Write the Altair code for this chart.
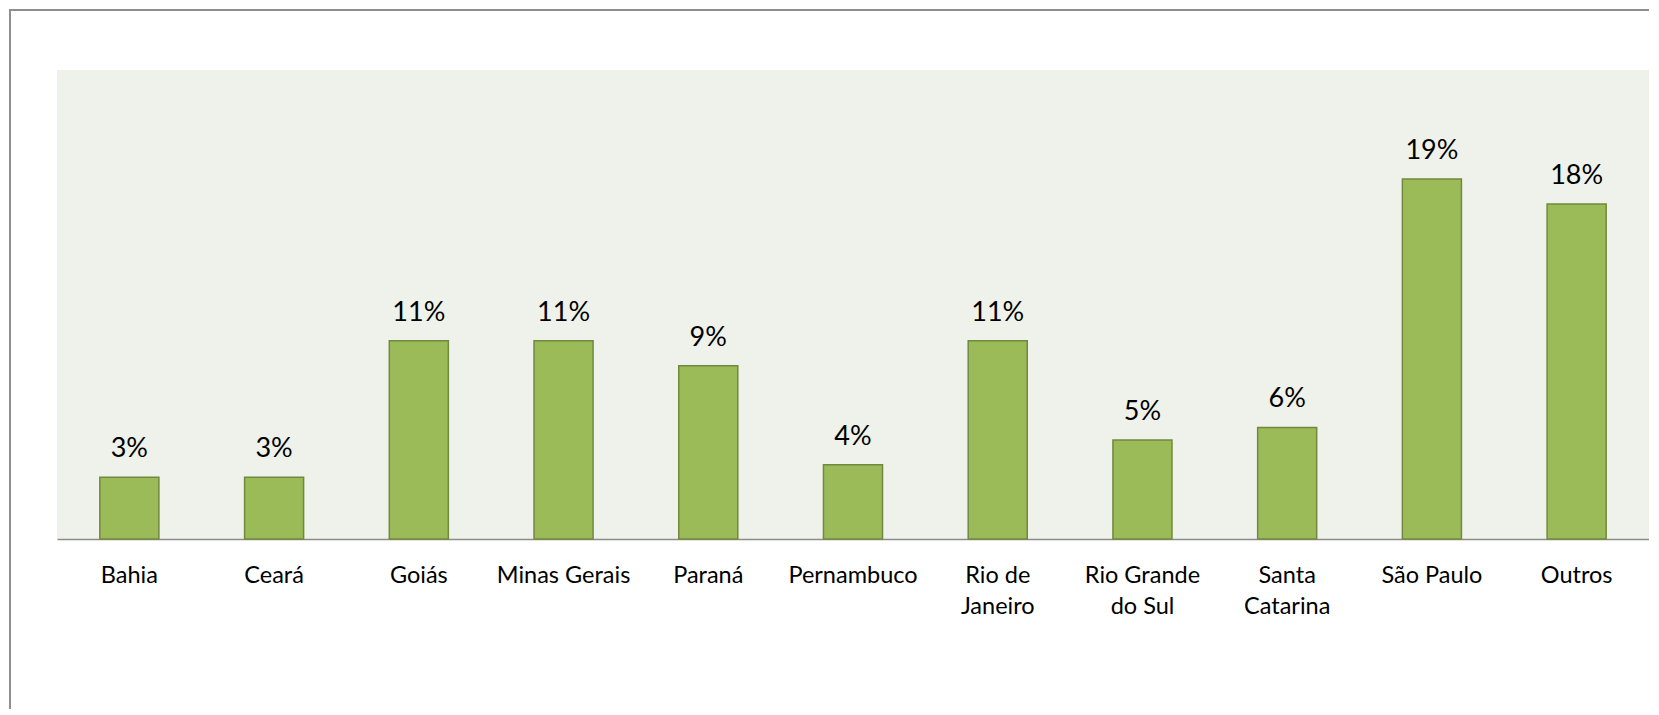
import altair as alt
import pandas as pd

categories = ["Bahia", "Ceará", "Goiás", "Minas Gerais", "Paraná", "Pernambuco",
              "Rio de Janeiro", "Rio Grande do Sul", "Santa Catarina", "São Paulo", "Outros"]
shares = [0.0329, 0.0329, 0.1057, 0.1057, 0.0924, 0.0396,
          0.1057, 0.0528, 0.0595, 0.1919, 0.1786]

df = pd.DataFrame({"estado": categories, "share": shares})

FONT = "Lato"
W, H = 1592, 469

x_enc = alt.X(
    "estado:N",
    sort=categories,
    title=None,
    scale=alt.Scale(paddingInner=0.592, paddingOuter=0.296),
    axis=alt.Axis(
        labelAngle=0,
        ticks=False,
        domainColor="#8C8C8C",
        domainWidth=1.5,
        labelFont=FONT,
        labelFontSize=23.5,
        labelColor="#000000",
        labelPadding=24,
        labelLineHeight=31,
        labelLimit=300,
        labelExpr=(
            "datum.label == 'Rio de Janeiro' ? ['Rio de', 'Janeiro'] : "
            "datum.label == 'Rio Grande do Sul' ? ['Rio Grande', 'do Sul'] : "
            "datum.label == 'Santa Catarina' ? ['Santa', 'Catarina'] : datum.label"
        ),
    ),
)
y_enc = alt.Y("share:Q", scale=alt.Scale(domain=[0, 0.25], nice=False), axis=None)

bars = alt.Chart(df).mark_bar(
    color="#9BBB59", stroke="#71893F", strokeWidth=1.5
).encode(x=x_enc, y=y_enc)

labels = alt.Chart(df).mark_text(
    font=FONT, fontSize=27, color="#000000", baseline="alphabetic", dy=-20
).encode(
    x=alt.X("estado:N", sort=categories),
    y="share:Q",
    text=alt.Text("share:Q", format=".0%"),
)

frame_top = alt.Chart(df).mark_rule(color="#8F8F8F", strokeWidth=2).encode(
    x=alt.value(-48), x2=alt.value(W + 20), y=alt.value(-60)
)
frame_left = alt.Chart(df).mark_rule(color="#8F8F8F", strokeWidth=2).encode(
    x=alt.value(-47), y=alt.value(-61), y2=alt.value(H + 200)
)

chart = (
    alt.layer(bars, labels, frame_top, frame_left)
    .properties(
        width=W,
        height=H,
        background="#FFFFFF",
        autosize=alt.AutoSizeParams(type="none"),
        padding={"left": 49, "top": 62, "right": 0, "bottom": 170},
    )
    .configure_view(fill="#EFF2EA", strokeWidth=0)
)

chart.save("out.html", embed_options={"renderer": "svg", "actions": False})
